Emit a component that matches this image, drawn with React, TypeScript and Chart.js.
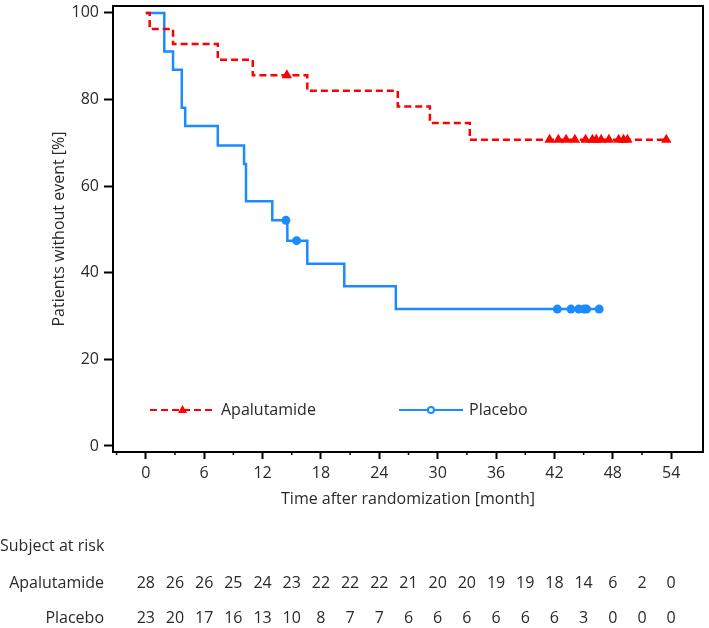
import { useEffect, useRef } from "react";
import { Chart, registerables } from "chart.js";

Chart.register(...registerables);

// Kaplan-Meier step data (months, % without event)
const apaTimes = [0, 0.4, 2.8, 7.4, 11.0, 16.6, 25.9, 29.2, 33.3, 53.5];
const apaSurv = [100, 96.3, 92.8, 89.2, 85.6, 82.0, 78.4, 74.6, 70.7, 70.7];
const apaCensorTimes = [14.5, 41.5, 42.4, 43.2, 44.1, 45.2, 45.9, 46.3, 46.8, 47.6, 48.6, 49.1, 49.5, 53.5];
const apaCensorSurv = [85.6, 70.7, 70.7, 70.7, 70.7, 70.7, 70.7, 70.7, 70.7, 70.7, 70.7, 70.7, 70.7, 70.7];

const plaTimes = [0, 1.9, 2.8, 3.7, 4.05, 7.4, 10.1, 10.3, 13.0, 14.55, 16.6, 20.4, 25.7, 46.6];
const plaSurv = [100, 91.1, 86.9, 78.1, 73.9, 69.4, 65.1, 56.5, 52.1, 47.4, 42.1, 36.9, 31.6, 31.6];
const plaCensorTimes = [14.4, 15.5, 42.3, 43.7, 44.5, 45.05, 45.3, 46.6];
const plaCensorSurv = [52.1, 47.4, 31.6, 31.6, 31.6, 31.6, 31.6, 31.6];

const xTicks = [0, 6, 12, 18, 24, 30, 36, 42, 48, 54];
const xMinorTicks = [-3, 3, 9, 15, 21, 27, 33, 39, 45, 51];
const yTicks = [0, 20, 40, 60, 80, 100];

const riskMonths = [0, 3, 6, 9, 12, 15, 18, 21, 24, 27, 30, 33, 36, 39, 42, 45, 48, 51, 54];
const apaRisk = [28, 26, 26, 25, 24, 23, 22, 22, 22, 21, 20, 20, 19, 19, 18, 14, 6, 2, 0];
const plaRisk = [23, 20, 17, 16, 13, 10, 8, 7, 7, 6, 6, 6, 6, 6, 6, 3, 0, 0, 0];

const seriesNames = ["Apalutamide", "Placebo"];

const FONT_FAMILY = '"Open Sans", sans-serif';
const FONT_SIZE = 16;
const TEXT = "#2a2a2a";
const RED = "#ff0000";
const BLUE = "#1a8cff";

const toPts = (xs: number[], ys: number[]) => xs.map((x, i) => ({ x, y: ys[i] }));

export default function App() {
  const ref = useRef<HTMLCanvasElement>(null);

  useEffect(() => {
    const canvas = ref.current;
    if (!canvas) return;

    const overlay = {
      id: "overlay",
      afterDraw(chart: any) {
        const { ctx, chartArea: a } = chart;
        const x = chart.scales.x;
        ctx.save();
        // frame
        ctx.strokeStyle = "#000";
        ctx.lineWidth = 2;
        ctx.strokeRect(a.left, a.top, a.right - a.left, a.bottom - a.top);
        // minor ticks
        ctx.lineWidth = 1.5;
        xMinorTicks.forEach((m) => {
          const px = x.getPixelForValue(m);
          ctx.beginPath();
          ctx.moveTo(px, a.bottom);
          ctx.lineTo(px, a.bottom + 3);
          ctx.stroke();
        });

        // legend
        const ly = 410;
        ctx.font = `${FONT_SIZE}px ${FONT_FAMILY}`;
        ctx.textBaseline = "middle";
        ctx.textAlign = "left";
        ctx.fillStyle = TEXT;
        // Apalutamide
        ctx.strokeStyle = RED;
        ctx.lineWidth = 2;
        ctx.setLineDash([7, 4]);
        ctx.beginPath();
        ctx.moveTo(150, ly);
        ctx.lineTo(213, ly);
        ctx.stroke();
        ctx.setLineDash([]);
        ctx.fillStyle = RED;
        ctx.beginPath();
        ctx.moveTo(182.5, ly - 5);
        ctx.lineTo(187, ly + 3);
        ctx.lineTo(178, ly + 3);
        ctx.closePath();
        ctx.fill();
        ctx.fillStyle = TEXT;
        ctx.fillText(chart.data.datasets[0].label, 221, ly);
        // Placebo
        ctx.strokeStyle = BLUE;
        ctx.lineWidth = 2;
        ctx.beginPath();
        ctx.moveTo(399, ly);
        ctx.lineTo(463, ly);
        ctx.stroke();
        ctx.fillStyle = "#fff";
        ctx.beginPath();
        ctx.arc(431, ly, 3, 0, Math.PI * 2);
        ctx.fill();
        ctx.stroke();
        ctx.fillStyle = TEXT;
        ctx.fillText(chart.data.datasets[2].label, 469, ly);

        // risk table
        ctx.fillStyle = TEXT;
        ctx.textAlign = "left";
        ctx.fillText("Subject at risk", 0, 546);
        ctx.textAlign = "right";
        ctx.fillText(seriesNames[0], 104, 583);
        ctx.fillText(seriesNames[1], 104, 618);
        ctx.textAlign = "center";
        riskMonths.forEach((m, i) => {
          const px = x.getPixelForValue(m);
          ctx.fillText(String(apaRisk[i]), px, 583);
          ctx.fillText(String(plaRisk[i]), px, 618);
        });
        ctx.restore();
      },
    };

    const font = { family: FONT_FAMILY, size: FONT_SIZE };

    const chart = new Chart(canvas, {
      type: "line",
      data: {
        datasets: [
          {
            label: seriesNames[0],
            data: toPts(apaTimes, apaSurv),
            borderColor: RED,
            borderWidth: 2.5,
            borderDash: [7, 4],
            stepped: "before",
            pointRadius: 0,
            fill: false,
          },
          {
            label: seriesNames[0] + " censored",
            data: toPts(apaCensorTimes, apaCensorSurv),
            showLine: false,
            pointStyle: "triangle",
            pointRadius: 6,
            pointBackgroundColor: RED,
            pointBorderColor: RED,
            pointBorderWidth: 0,
          },
          {
            label: seriesNames[1],
            data: toPts(plaTimes, plaSurv),
            borderColor: BLUE,
            borderWidth: 2.5,
            stepped: "before",
            pointRadius: 0,
            fill: false,
          },
          {
            label: seriesNames[1] + " censored",
            data: toPts(plaCensorTimes, plaCensorSurv),
            showLine: false,
            pointStyle: "circle",
            pointRadius: 4.5,
            pointBackgroundColor: BLUE,
            pointBorderColor: BLUE,
            pointBorderWidth: 0,
          },
        ],
      },
      options: {
        responsive: false,
        animation: false,
        devicePixelRatio: 1,
        layout: { padding: { top: 5, right: 2, left: 0, bottom: 0 } },
        plugins: { legend: { display: false }, tooltip: { enabled: false } },
        scales: {
          x: {
            type: "linear",
            min: -3.37,
            max: 57.27,
            afterBuildTicks: (s: any) => {
              s.ticks = xTicks.map((v) => ({ value: v }));
            },
            afterFit: (s: any) => {
              s.height = 176;
              s.paddingLeft = 0;
              s.paddingRight = 0;
            },
            ticks: { font, color: TEXT, padding: 5, maxRotation: 0, autoSkip: false },
            grid: { drawOnChartArea: false, tickLength: 7, tickColor: "#000", tickWidth: 2 },
            border: { display: false },
            title: {
              display: true,
              text: "Time after randomization [month]",
              font,
              color: TEXT,
              padding: { top: 0, bottom: 119 },
            },
          },
          y: {
            type: "linear",
            min: -1.4,
            max: 101.6,
            afterBuildTicks: (s: any) => {
              s.ticks = yTicks.map((v) => ({ value: v }));
            },
            afterFit: (s: any) => {
              s.width = 113;
              s.paddingTop = 0;
              s.paddingBottom = 0;
            },
            ticks: { font, color: TEXT, padding: 5 },
            grid: { drawOnChartArea: false, tickLength: 9, tickColor: "#000", tickWidth: 2 },
            border: { display: false },
            title: {
              display: true,
              text: "Patients without event [%]",
              font,
              color: TEXT,
              padding: { top: 50, bottom: 0 },
            },
          },
        },
      },
      plugins: [overlay],
    } as any);

    return () => chart.destroy();
  }, []);

  return (
    <div style={{ position: "fixed", left: 0, top: 0, width: 709, height: 628, background: "#fff" }}>
      <canvas ref={ref} width={709} height={628} style={{ display: "block", width: 709, height: 628 }} />
    </div>
  );
}
